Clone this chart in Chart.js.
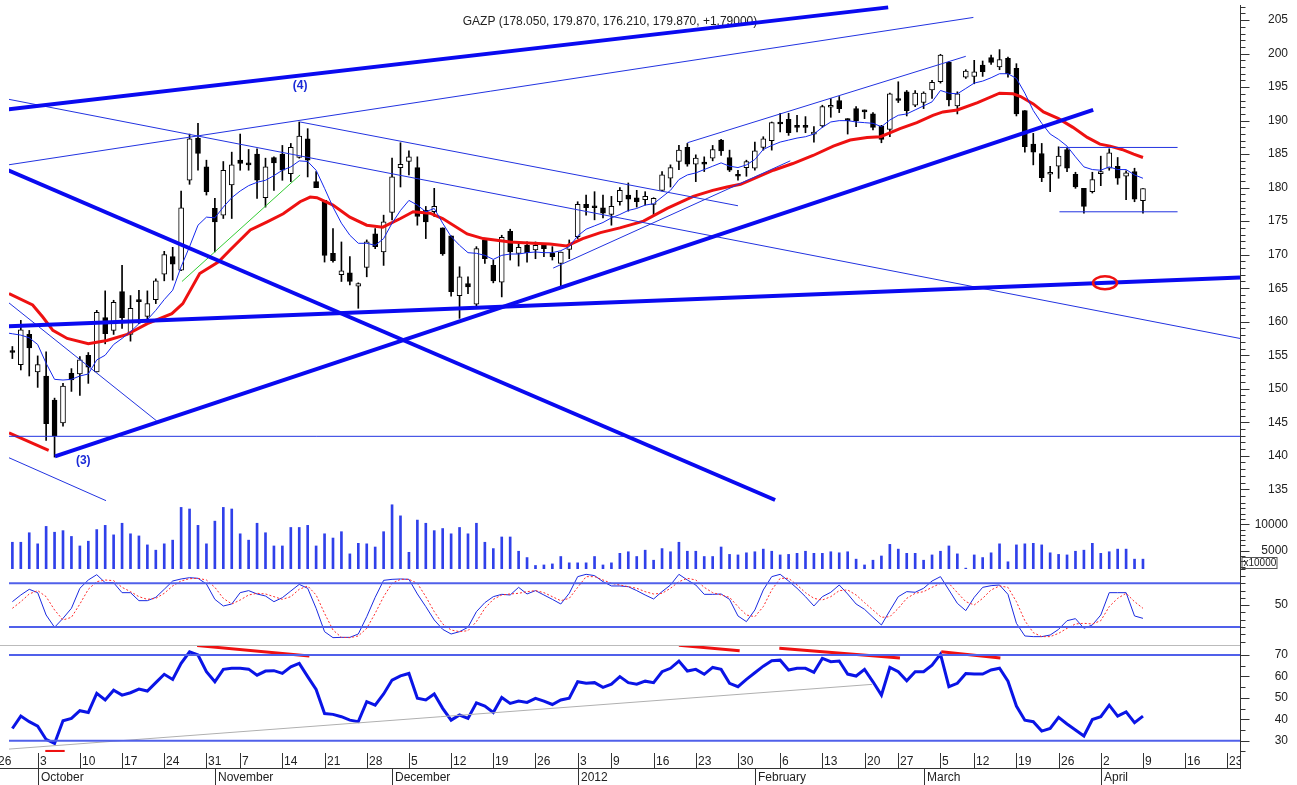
<!DOCTYPE html>
<html>
<head>
<meta charset="utf-8">
<title>GAZP</title>
<script src="https://cdn.jsdelivr.net/npm/chart.js@4.4.1/dist/chart.umd.min.js"></script>
<style>
  html, body { margin: 0; padding: 0; background: #fff; }
  #wrap { position: relative; width: 1297px; height: 785px; overflow: hidden; }
  #wrap canvas { position: absolute; left: 0; }
</style>
</head>
<body>
<div id="wrap">
  <canvas id="mainChart" width="1297" height="502" style="top:0px"></canvas>
  <canvas id="volChart" width="1297" height="69" style="top:500px"></canvas>
  <canvas id="stochChart" width="1297" height="76" style="top:569px"></canvas>
  <canvas id="rsiChart" width="1297" height="140" style="top:645px"></canvas>
</div>
<script>
// x = trading day index, 0 = 26 Sep 2011 (holidays skipped)
const FIRST = 2;          // first candle on screen
const X_MIN = 1.6, X_MAX = 147.5;

const opens = [
  155.5,153.6,158.1,152.5,151.9,148.3,144.9,152.3,152.2,155.0,
  152.5,160.6,158.7,164.5,158.1,163.1,160.8,163.3,167.1,169.7,
  167.7,181.1,187.4,183.1,176.9,175.9,180.4,184.1,183.5,185.0,
  178.5,184.5,185.0,182.1,184.5,187.3,180.9,178.1,170.2,167.0,
  167.3,165.3,168.1,173.1,170.4,176.3,183.0,183.9,183.0,176.6,
  176.4,174.0,172.8,163.9,165.7,162.6,172.2,168.4,165.9,173.5,
  170.2,171.4,170.7,171.4,170.2,168.7,170.8,172.7,177.5,177.2,
  177.0,176.0,177.9,178.9,178.5,178.2,177.5,179.6,181.4,183.9,
  186.0,183.5,183.8,184.4,187.1,184.5,181.8,183.0,182.9,186.0,
  187.0,189.6,190.2,189.3,189.2,188.0,189.2,192.0,193.0,190.2,
  191.8,191.4,191.0,189.2,188.7,193.1,194.3,192.3,192.7,194.6,
  195.8,198.7,192.2,196.5,196.6,198.3,199.4,198.0,199.3,197.8,
  191.5,186.5,185.1,182.0,183.2,185.7,182.0,179.9,179.4,182.1,
  182.9,183.2,181.7,182.4,178.05
];
const highs = [
  156.3,160.2,158.7,154.9,155.5,148.6,150.8,153.0,154.8,155.4,
  161.7,164.6,163.2,168.4,163.9,164.7,164.6,166.4,170.5,171.1,
  179.5,188.0,189.6,184.1,178.4,183.9,185.3,188.0,185.7,185.8,
  184.4,184.6,186.3,186.6,189.8,188.8,182.4,178.1,173.9,171.9,
  169.7,165.8,172.2,173.9,175.9,184.4,186.7,185.5,184.6,177.2,
  179.9,174.0,172.8,168.2,166.7,171.2,172.4,169.2,172.9,173.8,
  171.9,171.9,171.9,171.7,171.2,170.4,172.2,177.9,178.9,179.4,
  178.9,178.7,180.0,180.7,179.6,179.4,178.5,182.4,183.4,186.3,
  186.6,184.9,184.6,186.3,187.2,185.6,182.6,184.1,186.8,187.6,
  189.8,191.1,191.1,190.8,190.6,189.1,192.3,193.3,193.6,190.3,
  192.1,191.6,191.2,189.3,194.1,195.8,194.5,194.5,194.3,196.0,
  199.9,198.8,194.3,197.6,199.0,198.9,199.8,200.6,199.5,198.5,
  191.5,188.1,186.6,183.2,186.1,186.0,182.3,179.9,182.3,184.7,
  185.8,184.5,182.5,182.9,179.87
];
const lows = [
  154.5,152.8,151.9,150.2,142.3,139.8,144.4,149.6,149.0,150.8,
  152.5,156.7,158.1,159.0,157.1,159.7,160.2,162.7,166.1,166.2,
  167.6,180.5,182.6,178.9,170.4,175.4,175.4,182.6,182.6,178.4,
  177.1,179.6,181.1,180.9,184.4,181.6,180.0,168.9,168.9,166.0,
  165.5,162.0,166.7,170.9,168.4,175.2,180.1,181.9,174.4,172.4,
  175.7,169.9,163.8,160.5,164.2,162.3,168.7,165.8,163.7,169.2,
  168.3,168.9,169.4,169.7,169.2,165.3,169.4,172.4,175.9,175.2,
  175.5,174.4,177.4,176.5,177.1,177.4,175.9,179.5,180.1,182.7,
  183.2,180.9,182.4,184.0,184.8,182.4,181.1,181.7,182.6,185.6,
  185.6,188.3,187.8,188.3,188.2,186.8,189.0,190.5,191.2,188.0,
  189.1,190.3,188.6,186.7,187.6,192.7,190.7,192.1,191.8,193.3,
  195.6,192.2,191.0,196.3,195.5,196.6,198.4,197.6,196.5,190.7,
  185.3,183.4,180.9,179.4,181.4,182.4,179.9,176.2,179.2,180.3,
  182.6,180.5,178.2,177.9,176.21
];
const closes = [
  155.4,158.8,156.1,153.6,144.8,143.0,150.4,151.3,154.3,153.2,
  161.4,158.2,162.9,160.6,162.0,163.0,162.7,166.1,170.0,168.6,
  177.0,187.3,185.1,179.4,174.9,182.6,183.4,183.6,183.4,181.1,
  183.1,183.7,182.6,186.0,187.7,184.1,180.0,169.9,169.1,167.6,
  166.0,165.7,171.9,171.2,174.9,181.6,183.5,184.6,175.7,174.9,
  177.2,170.1,164.5,166.7,165.2,170.9,169.4,166.1,172.6,170.4,
  171.1,170.3,171.4,170.9,169.7,170.4,171.4,177.5,177.0,177.0,
  176.2,177.2,179.6,178.3,177.9,178.7,178.4,181.9,183.0,185.6,
  183.5,184.4,183.5,185.7,185.5,182.6,181.7,183.9,185.5,187.3,
  189.7,189.5,188.2,189.0,189.0,188.3,192.1,192.1,191.8,190.0,
  190.0,191.3,189.0,187.2,194.0,193.0,191.5,194.1,194.1,195.7,
  199.8,193.1,194.0,197.4,197.3,197.3,198.7,199.1,197.0,191.0,
  186.1,185.3,181.5,182.3,184.7,182.9,180.1,177.2,181.2,182.1,
  185.2,181.4,182.2,178.3,179.87
];

// thin blue average, starts at day 1
const maFast = [
  158.4,158.2,158.0,157.6,156.6,153.8,151.4,151.3,151.4,151.9,
  152.2,154.3,155.0,156.6,157.5,158.5,159.7,160.3,161.7,163.3,
  164.7,168.2,171.2,174.4,175.6,175.5,177.1,178.5,179.5,180.3,
  180.8,181.1,181.8,182.6,183.1,184.0,183.9,182.6,179.9,177.1,
  174.7,172.9,171.7,171.7,171.4,172.4,174.7,176.6,178.1,177.4,
  176.4,176.9,174.7,172.7,171.4,170.3,170.2,169.9,169.3,169.9,
  170.1,170.1,170.3,170.4,170.3,170.3,170.6,171.2,172.8,173.8,
  174.3,174.8,175.5,176.0,176.6,176.9,177.4,177.6,178.6,179.6,
  181.2,181.9,182.2,182.7,183.2,183.7,183.2,183.0,183.4,184.2,
  185.7,186.3,186.8,187.1,187.4,187.6,188.0,189.0,189.8,190.0,
  190.0,189.8,189.7,189.6,189.1,190.1,190.8,191.0,191.6,192.2,
  192.8,194.5,194.1,194.0,194.8,195.6,195.9,196.4,197.0,197.0,
  196.3,194.1,191.5,189.6,188.0,187.2,186.2,184.6,183.1,182.7,
  182.6,183.1,182.7,182.7,181.9,181.4
];
// thick red average, read as [day, price]
const maSlow = [
  [1.6,164.2],[4.4,162.5],[5.6,160.7],[6.8,158.7],[8.5,157.5],[11,156.7],[13.2,157.2],
  [15.6,158.1],[18,159.7],[20.9,161.2],[22.2,162.7],[24.2,167.2],[26.4,168.9],[27.8,170.7],
  [30.2,173.7],[32.2,174.9],[34.1,176.1],[36.1,177.9],[37.3,178.6],[38.1,178.5],[40,177.4],
  [42,175.6],[44,174.4],[45.9,174.1],[48,175.4],[49.5,176.4],[51.5,176.2],[53,175.4],
  [55.9,173.1],[57.8,172.4],[61,171.9],[63.7,171.7],[65.7,171.6],[67.7,171.3],[69.6,172.4],
  [71.7,173.3],[74,174.0],[76.8,175.0],[79.6,176.9],[82.7,178.7],[85,179.6],[86.7,180.1],
  [88.3,180.5],[89.4,181.1],[92.2,182.6],[94.5,183.6],[96.9,184.8],[99.3,186.2],[101.3,187.1],
  [103.3,187.5],[104.9,187.6],[107.2,188.8],[109.2,189.7],[111.1,190.8],[112.3,191.3],[114,191.6],
  [116.4,192.7],[119,194.1],[120.6,194.0],[121.5,193.6],[123,192.5],[124.2,191.3],[126,190.3],
  [127.7,189.0],[129.4,187.5],[130.9,186.5],[132.1,186.2],[133.5,185.7],[134.9,185.0],[136,184.5]
];

const volumes = [
  6600,6600,8400,6300,9600,8500,8800,7700,5900,6800,
  9000,9800,8000,10200,8200,7800,6100,5100,6300,7000,
  13200,12900,9800,6300,10600,13200,12900,8200,7000,10200,
  8400,5900,5900,9400,9400,9800,5900,8200,7400,8600,
  4400,6400,6300,5700,8600,13700,11600,4700,10800,10200,
  8800,9200,8200,9400,8200,10200,6600,5400,7600,7600,
  4900,3700,2200,2300,2500,3900,2700,2700,2700,3900,
  2300,2700,4500,4800,3900,5100,3200,5400,4800,6600,
  4900,4900,3900,3900,5700,4300,4200,4600,4800,5300,
  4900,4200,4300,4500,4900,4500,4500,4800,4600,4800,
  3400,2300,3200,4000,6200,5300,4500,4500,3200,4200,
  4900,5900,4400,1700,4200,3700,4600,6300,2900,6100,
  6300,6400,6100,4600,4300,4200,4900,5100,6400,4500,
  4800,5300,5300,3400,3400
];

const stochK = [
  54.7,63.9,71.7,67.1,36.4,19.5,31.8,45.6,73.1,84.5,
  91.8,80.8,80.8,67.1,67.1,56.1,56.1,60.7,71.7,83.1,
  85.9,87.7,86.8,79.0,57.9,48.8,51.5,67.1,69.9,65.3,
  62.5,54.7,60.2,69.4,78.5,73.1,45.6,13.5,5.3,5.7,
  5.7,10.3,34.1,60.7,84.0,85.4,85.9,85.4,65.3,47.9,
  29.6,16.7,10.3,13.5,19.5,41.0,53.4,61.6,64.8,63.9,
  74.4,65.3,69.9,63.9,57.9,51.5,66.2,89.1,92.3,90.5,
  82.2,76.3,76.3,75.3,69.9,63.9,58.4,68.5,77.6,92.3,
  84.5,77.6,64.8,64.8,65.3,57.9,35.1,27.3,43.3,70.8,
  89.1,92.3,83.1,73.1,61.6,48.8,61.6,67.6,77.6,65.3,
  51.5,44.2,33.2,22.7,42.4,61.6,68.5,67.6,73.1,83.1,
  89.1,70.8,52.4,42.4,60.7,74.4,76.7,77.6,64.8,25.0,
  7.6,6.7,6.7,8.9,16.7,28.6,31.4,18.1,22.7,36.4,
  67.1,67.1,67.1,35.1,31.8
];
const stochD = [
  45.6,54.7,65.3,69.9,61.6,43.3,29.6,33.2,51.5,71.7,
  82.2,84.5,83.6,74.4,68.5,61.6,57.9,59.3,66.2,76.3,
  83.1,86.3,86.8,84.5,74.4,59.3,51.5,57.0,63.9,66.2,
  65.3,61.6,57.9,61.6,71.7,76.3,63.9,38.7,15.8,5.7,
  5.3,7.6,18.1,38.7,61.6,79.9,85.4,85.4,79.9,61.6,
  41.0,24.1,15.8,13.5,14.9,27.3,45.6,57.9,63.9,65.3,
  66.2,68.5,69.9,67.1,61.6,56.1,59.3,74.4,89.1,89.1,
  84.5,79.9,77.6,75.3,73.1,68.5,65.3,66.2,73.1,82.2,
  86.8,84.5,74.4,67.1,63.9,60.7,47.9,36.4,34.1,47.9,
  70.8,86.8,86.8,77.6,67.1,59.3,57.0,61.6,69.9,70.8,
  63.9,53.4,43.3,33.2,34.1,45.6,59.3,66.2,68.5,74.4,
  79.9,79.9,67.1,54.7,50.2,59.3,70.8,76.3,74.4,54.7,
  28.6,12.2,6.7,6.7,11.2,18.1,24.1,25.0,24.1,28.6,
  47.9,59.3,66.2,54.7,45.6
];
const rsi = [
  35.7,41.5,38.9,36.8,30.6,28.7,39.3,40.4,44.0,43.2,
  52.1,49.0,53.6,51.3,52.4,54.1,53.2,57.1,61.0,58.6,
  66.1,71.5,70.0,62.2,57.5,63.3,63.8,63.8,63.4,60.6,
  62.5,62.7,61.4,64.5,66.1,59.9,53.9,42.7,42.3,41.2,
  39.6,38.9,48.2,46.6,51.8,58.3,60.3,61.4,49.8,49.0,
  51.8,45.1,39.6,42.0,40.4,47.7,46.2,43.2,50.2,47.4,
  48.5,47.9,49.8,48.5,46.9,49.0,49.8,57.5,56.8,57.1,
  54.9,56.4,59.9,57.1,56.4,57.8,57.1,62.2,63.8,67.2,
  62.5,63.3,61.0,64.2,63.3,56.8,55.2,58.6,61.7,64.8,
  67.3,67.6,63.0,63.8,63.8,61.9,68.4,66.9,67.2,61.1,
  60.2,63.3,57.5,51.3,64.2,62.2,58.0,62.2,62.2,65.3,
  70.4,55.2,56.8,61.4,61.1,61.1,63.0,63.8,57.8,46.2,
  39.6,38.9,34.5,35.7,40.9,37.8,35.0,32.2,39.9,41.2,
  46.6,41.5,43.5,38.4,41.5
];

// drawn trend lines: [day1, value1, day2, value2]
const thickLines = [
  [1.5,191.7,105.8,206.9],
  [1.5,182.6,92.4,133.4],
  [7.05,139.9,130.1,191.6],
  [1.5,159.3,147.5,166.6]
];
const thinLines = [
  [1.5,183.4,115.9,205.4],
  [36.1,189.8,88.0,177.3],
  [1.5,193.2,147.5,157.5],
  [1.5,142.9,147.5,142.9],
  [1.6,162.8,19.1,145.2],
  [1.6,139.7,13.1,133.3],
  [82.0,186.7,115.0,199.6],
  [66.1,168.0,94.2,184.0],
  [126.1,186.0,140.1,186.0],
  [126.1,176.4,140.1,176.4]
];
const greenLines = [[22.1,166.0,36.1,181.9]];
const redPriceLines = [[1.6,143.4,6.3,140.8]];
const waveLabels = [[10.4,139.2,'(3)'],[36.1,195.2,'(4)']];
const circleMark = [131.5,165.8];

const stochLevels = [80, 20];
const rsiLevels = [70, 30];
const rsiGrayLines = [[1.6,26.1,103.9,56.3]];
const rsiRedLines = [
  [23.9,74.4,37.2,69.5],[81,74.5,88.2,72.0],[92.9,73.1,107.2,68.6],
  [112.1,71.5,119.1,68.6],[5.9,25.0,8.2,25.0]
];

const priceTicks = [135,140,145,150,155,160,165,170,175,180,185,190,195,200,205];
const volTicks = [5000,10000];
const stochTicks = [50];
const rsiTicks = [30,40,50,60,70];
const weekTicks = [
  [0,'26'],[5,'3'],[10,'10'],[15,'17'],[20,'24'],[25,'31'],[29,'7'],[34,'14'],[39,'21'],
  [44,'28'],[49,'5'],[54,'12'],[59,'19'],[64,'26'],[69,'3'],[73,'9'],[78,'16'],[83,'23'],
  [88,'30'],[93,'6'],[98,'13'],[103,'20'],[107,'27'],[112,'5'],[116,'12'],[121,'19'],
  [126,'26'],[131,'2'],[136,'9'],[141,'16'],[146,'23']
];
const monthTicks = [[5,'October'],[26,'November'],[47,'December'],[69,'2012'],[90,'February'],[110,'March'],[131,'April']];
const titleText = 'GAZP (178.050, 179.870, 176.210, 179.870, +1.79000)';

const FONT = '"Liberation Sans", Arial, sans-serif';
const days = closes.map((_, k) => FIRST + k);

function segment(s, color, width, extra) {
  return Object.assign({
    type: 'line',
    data: [{ x: s[0], y: s[1] }, { x: s[2], y: s[3] }],
    borderColor: color, borderWidth: width,
    pointRadius: 0, fill: false, tension: 0, order: 0
  }, extra || {});
}
function series(values, start, color, width, extra) {
  return Object.assign({
    type: 'line',
    data: values.map((v, k) => ({ x: start + k, y: v })),
    borderColor: color, borderWidth: width,
    pointRadius: 0, fill: false, tension: 0, order: 1
  }, extra || {});
}
function levelLine(v) {
  return segment([X_MIN, v, X_MAX, v], '#5060ea', 2);
}

const rightAxis = {
  id: 'rightAxis',
  afterDraw(chart, args, o) {
    const { ctx, chartArea: a, scales: { y } } = chart;
    const ax = Math.round(a.right) + 0.5;
    ctx.save();
    ctx.strokeStyle = '#333';
    ctx.lineWidth = 1;
    ctx.beginPath();
    ctx.moveTo(ax, o.lineTop);
    ctx.lineTo(ax, o.lineBottom);
    for (let v = o.minor[0]; v <= o.minor[1]; v += o.minor[2]) {
      const py = Math.round(y.getPixelForValue(v)) + 0.5;
      ctx.moveTo(ax, py); ctx.lineTo(ax + 5, py);
    }
    o.major.forEach(v => {
      const py = Math.round(y.getPixelForValue(v)) + 0.5;
      ctx.moveTo(ax, py); ctx.lineTo(ax + 9, py);
    });
    ctx.stroke();
    ctx.fillStyle = '#222';
    ctx.font = '12px ' + FONT;
    ctx.textAlign = 'right';
    ctx.textBaseline = 'middle';
    o.major.forEach(v => ctx.fillText(String(v), 1288, y.getPixelForValue(v)));
    if (o.unitBox) {
      ctx.strokeStyle = '#555';
      ctx.strokeRect(ax + 1.5, 57.5, 35, 11);
      ctx.font = '10px ' + FONT;
      ctx.textAlign = 'left';
      ctx.fillText(o.unitBox, ax + 3, 63.5);
    }
    ctx.restore();
  }
};

const mainDecor = {
  id: 'mainDecor',
  beforeDatasetsDraw(chart) {
    const { ctx } = chart;
    ctx.save();
    ctx.fillStyle = '#222';
    ctx.font = '12px ' + FONT;
    ctx.textAlign = 'center';
    ctx.textBaseline = 'alphabetic';
    ctx.fillText(titleText, 610, 25);
    ctx.restore();
  },
  afterDatasetsDraw(chart) {
    const { ctx, scales: { x, y } } = chart;
    ctx.save();
    ctx.fillStyle = '#1a2ad8';
    ctx.font = 'bold 12px ' + FONT;
    ctx.textAlign = 'center';
    ctx.textBaseline = 'middle';
    waveLabels.forEach(([d, p, t]) => ctx.fillText(t, x.getPixelForValue(d), y.getPixelForValue(p)));
    ctx.strokeStyle = '#ee1111';
    ctx.lineWidth = 2.5;
    ctx.beginPath();
    ctx.ellipse(x.getPixelForValue(circleMark[0]), y.getPixelForValue(circleMark[1]), 12, 6.5, 0, 0, Math.PI * 2);
    ctx.stroke();
    ctx.restore();
  }
};

const dateAxis = {
  id: 'dateAxis',
  afterDraw(chart) {
    const { ctx, chartArea: a, scales: { x } } = chart;
    const rule = a.bottom + 16;
    ctx.save();
    ctx.strokeStyle = '#bbb';
    ctx.lineWidth = 1;
    ctx.beginPath();
    ctx.moveTo(0, 0.5); ctx.lineTo(a.right, 0.5);
    ctx.stroke();
    ctx.strokeStyle = '#333';
    ctx.beginPath();
    ctx.moveTo(0, rule + 0.5); ctx.lineTo(a.right, rule + 0.5);
    weekTicks.forEach(([d]) => {
      const px = Math.round(x.getPixelForValue(d)) + 0.5;
      ctx.moveTo(px, a.bottom + 1); ctx.lineTo(px, rule);
    });
    monthTicks.forEach(([d]) => {
      const px = Math.round(x.getPixelForValue(d)) + 0.5;
      ctx.moveTo(px, rule); ctx.lineTo(px, chart.height);
    });
    ctx.stroke();
    ctx.beginPath();
    ctx.rect(0, a.bottom, a.right, chart.height - a.bottom);
    ctx.clip();
    ctx.fillStyle = '#222';
    ctx.font = '12px ' + FONT;
    ctx.textAlign = 'left';
    ctx.textBaseline = 'alphabetic';
    weekTicks.forEach(([d, t]) => ctx.fillText(t, Math.round(x.getPixelForValue(d)) + 2, a.bottom + 13));
    monthTicks.forEach(([d, t]) => ctx.fillText(t, Math.round(x.getPixelForValue(d)) + 3, chart.height - 4));
    ctx.restore();
  }
};

function baseOptions(yMin, yMax, padBottom, axisOpts) {
  return {
    responsive: false,
    animation: false,
    devicePixelRatio: 1,
    events: [],
    layout: { padding: { left: 9, right: 57, top: 0, bottom: padBottom } },
    plugins: { legend: { display: false }, tooltip: { enabled: false }, rightAxis: axisOpts },
    scales: {
      x: { type: 'linear', min: X_MIN, max: X_MAX, offset: false, display: false },
      y: { type: 'linear', min: yMin, max: yMax, display: false }
    }
  };
}

// price panel
new Chart(document.getElementById('mainChart'), {
  type: 'bar',
  data: {
    datasets: [
      {
        data: days.map((d, k) => ({ x: d, y: [lows[k], highs[k]] })),
        backgroundColor: '#000', barThickness: 1, grouped: false, order: 3
      },
      {
        data: days.map((d, k) => ({ x: d, y: [opens[k], closes[k]] })),
        backgroundColor: ctx => closes[ctx.dataIndex] >= opens[ctx.dataIndex] ? '#fff' : '#000',
        borderColor: '#000', borderWidth: 1, borderSkipped: false,
        barThickness: 5, minBarLength: 2, grouped: false, order: 2
      },
      series(maFast, 1, '#1428ee', 1),
      Object.assign(series([], 0, '#ee1111', 3), { data: maSlow.map(([d, v]) => ({ x: d, y: v })) }),
      ...thickLines.map(s => segment(s, '#0a0af0', 4)),
      ...thinLines.map(s => segment(s, '#2233e0', 1)),
      ...greenLines.map(s => segment(s, '#33cc33', 1)),
      ...redPriceLines.map(s => segment(s, '#ee1111', 3))
    ]
  },
  options: baseOptions(133.1, 208.0, 0, {
    lineTop: 5, lineBottom: 502, minor: [134, 207, 1], major: priceTicks
  }),
  plugins: [rightAxis, mainDecor]
});

// volume panel
new Chart(document.getElementById('volChart'), {
  type: 'bar',
  data: {
    datasets: [{
      data: days.map((d, k) => ({ x: d, y: volumes[k] })),
      backgroundColor: '#2f40ea', barThickness: 2
    }]
  },
  options: baseOptions(1535, 14603, 0, {
    lineTop: 0, lineBottom: 69, minor: [2000, 14000, 1000], major: volTicks, unitBox: 'x10000'
  }),
  plugins: [rightAxis]
});

// stochastic panel
new Chart(document.getElementById('stochChart'), {
  type: 'line',
  data: {
    datasets: [
      ...stochLevels.map(levelLine),
      series(stochD, FIRST, '#ff2a2a', 1, { borderDash: [2, 2] }),
      series(stochK, FIRST, '#1a2ae0', 1)
    ]
  },
  options: baseOptions(-4.8, 99.6, 0, {
    lineTop: 0, lineBottom: 76, minor: [0, 100, 10], major: stochTicks
  }),
  plugins: [rightAxis]
});

// RSI panel with date axis
new Chart(document.getElementById('rsiChart'), {
  type: 'line',
  data: {
    datasets: [
      ...rsiLevels.map(levelLine),
      ...rsiGrayLines.map(s => segment(s, '#b0b0b0', 1)),
      ...rsiRedLines.map(s => segment(s, '#ee1111', 3)),
      series(rsi, FIRST, '#0a14e6', 3)
    ]
  },
  options: baseOptions(24.74, 74.67, 33, {
    lineTop: 0, lineBottom: 124, minor: [25, 75, 5], major: rsiTicks
  }),
  plugins: [rightAxis, dateAxis]
});
</script>
</body>
</html>
